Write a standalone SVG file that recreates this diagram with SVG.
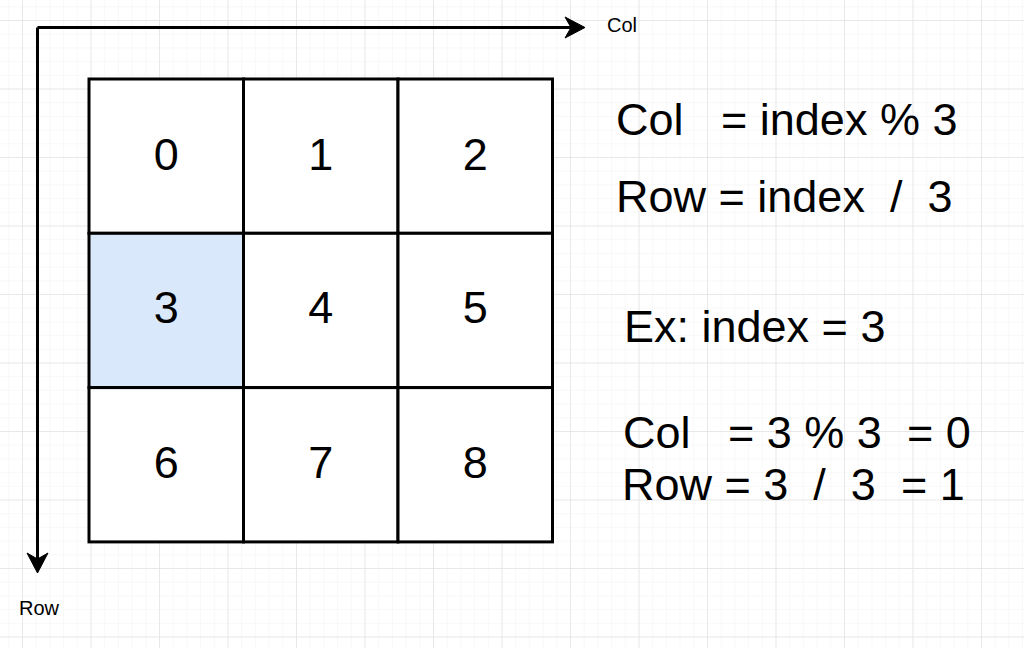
<svg xmlns="http://www.w3.org/2000/svg" width="1024" height="648" viewBox="0 0 1024 648">
  <style>
    .cell { stroke: #000; stroke-width: 3; fill: #fff; }
    .hl { fill: #dae8fc; }
    .num { font-family: "Liberation Sans", Arial, sans-serif; font-size: 45px; fill: #000; text-anchor: middle; }
    .eq { font-family: "Liberation Sans", Arial, sans-serif; font-size: 45px; fill: #000; }
    .axis { font-family: "Liberation Sans", Arial, sans-serif; font-size: 20px; fill: #000; }
    .conn { stroke: #000; stroke-width: 3; fill: none; }
  </style>
  <defs>
    <pattern id="minor" x="22" y="20" width="13.7" height="13.7" patternUnits="userSpaceOnUse">
      <path d="M0 0 H13.7 M0 0 V13.7" stroke="#f2f2f2" stroke-width="1" fill="none"/>
    </pattern>
    <pattern id="major" x="22" y="20" width="68.5" height="68.5" patternUnits="userSpaceOnUse">
      <path d="M0 0 H68.5 M0 0 V68.5" stroke="#e4e4e4" stroke-width="1.5" fill="none"/>
    </pattern>
  </defs>
  <rect width="1024" height="648" fill="#fff"/>
  <rect width="1024" height="648" fill="url(#minor)"/>
  <rect width="1024" height="648" fill="url(#major)"/>

  <g id="connectors">
    <path class="conn" d="M37.5 27.5 H572"/>
    <polygon points="585,27.5 565,17 571,27.5 565,38" fill="#000" stroke="#000" stroke-width="1"/>
    <path class="conn" d="M37.5 27.5 V560"/>
    <polygon points="37.5,573 27,553 37.5,559 48,553" fill="#000" stroke="#000" stroke-width="1"/>
  </g>

  <g id="cell0"><rect class="cell" x="89" y="79" width="154.5" height="154.3"/><text class="num" x="166.2" y="170">0</text></g>
  <g id="cell1"><rect class="cell" x="243.5" y="79" width="154.5" height="154.3"/><text class="num" x="320.7" y="170">1</text></g>
  <g id="cell2"><rect class="cell" x="398" y="79" width="154.5" height="154.3"/><text class="num" x="475.2" y="170">2</text></g>
  <g id="cell3"><rect class="cell hl" x="89" y="233.3" width="154.5" height="154.3"/><text class="num" x="166.2" y="323">3</text></g>
  <g id="cell4"><rect class="cell" x="243.5" y="233.3" width="154.5" height="154.3"/><text class="num" x="320.7" y="323">4</text></g>
  <g id="cell5"><rect class="cell" x="398" y="233.3" width="154.5" height="154.3"/><text class="num" x="475.2" y="323">5</text></g>
  <g id="cell6"><rect class="cell" x="89" y="387.6" width="154.5" height="154.3"/><text class="num" x="166.2" y="478">6</text></g>
  <g id="cell7"><rect class="cell" x="243.5" y="387.6" width="154.5" height="154.3"/><text class="num" x="320.7" y="478">7</text></g>
  <g id="cell8"><rect class="cell" x="398" y="387.6" width="154.5" height="154.3"/><text class="num" x="475.2" y="478">8</text></g>

  <g id="label-col"><text class="axis" x="607" y="32">Col</text></g>
  <g id="label-row"><text class="axis" x="19" y="615">Row</text></g>

  <g id="formula">
    <text class="eq" x="616" y="135" xml:space="preserve">Col   = index % 3</text>
    <text class="eq" x="616" y="212" xml:space="preserve">Row = index  /  3</text>
  </g>
  <g id="example">
    <text class="eq" x="624" y="342" xml:space="preserve">Ex: index = 3</text>
    <text class="eq" x="623" y="448" xml:space="preserve">Col   = 3 % 3  = 0</text>
    <text class="eq" x="622" y="500" xml:space="preserve">Row = 3  /  3  = 1</text>
  </g>
</svg>
